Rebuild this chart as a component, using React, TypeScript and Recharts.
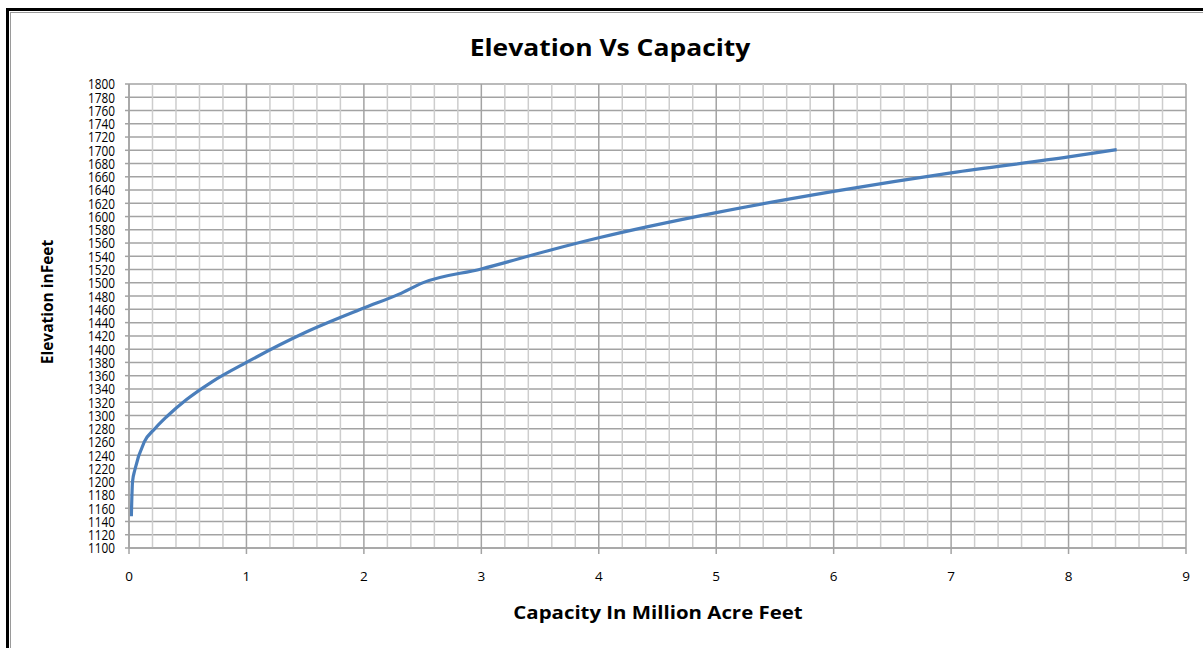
import { CartesianGrid, Line, LineChart, ReferenceLine, XAxis, YAxis } from "recharts";

// storage capacity (million acre feet) against pool elevation (feet)
const capacity = [0.02, 0.03, 0.05, 0.13, 0.22, 0.32, 0.49, 0.7, 1.0, 1.5, 2.0, 2.3, 2.5, 3.0, 3.6, 4.0, 5.0, 6.0, 7.0, 8.0, 8.41];
const elevation = [1148, 1200, 1218, 1260, 1280, 1298, 1324, 1350, 1380, 1425, 1462, 1483, 1500, 1521, 1550, 1568, 1606, 1638, 1666, 1690, 1701];

const xTicks = [0, 1, 2, 3, 4, 5, 6, 7, 8, 9];
const yTicks = [
  1100, 1120, 1140, 1160, 1180, 1200, 1220, 1240, 1260, 1280, 1300, 1320,
  1340, 1360, 1380, 1400, 1420, 1440, 1460, 1480, 1500, 1520, 1540, 1560,
  1580, 1600, 1620, 1640, 1660, 1680, 1700, 1720, 1740, 1760, 1780, 1800,
];
// minor vertical grid every 0.2 between the whole-number lines
const minorX = xTicks.slice(0, -1).flatMap((t) => [0.2, 0.4, 0.6, 0.8].map((f) => +(t + f).toFixed(1)));

const data = capacity.map((c, i) => ({ capacity: c, elevation: elevation[i] }));

const FONT = "'Open Sans', 'Liberation Sans', sans-serif";
const GRID = "#a3a3a3";

// narrow, tall labels so the 20 ft steps stay readable
function ElevationTick(props: any) {
  const { x, y, payload } = props;
  return (
    <text
      x={x}
      y={y}
      dy="0.36em"
      textAnchor="end"
      fontSize={15}
      fontFamily={FONT}
      fill="#000"
      textLength={27}
      lengthAdjust="spacingAndGlyphs"
    >
      {payload.value}
    </text>
  );
}

export default function App() {
  return (
    <div style={{ position: "relative", width: 1203, height: 648, overflow: "hidden", background: "#fff", fontFamily: FONT }}>
      <style>{"body{margin:0}"}</style>
      {/* double frame; right and bottom run off the page */}
      <div style={{ position: "absolute", left: 6, top: 8, width: 1300, height: 800, border: "3px solid #000" }} />
      <div style={{ position: "absolute", left: 10, top: 12, width: 1300, height: 800, borderLeft: "1.5px solid #9a9a9a", borderTop: "1.5px solid #9a9a9a" }} />

      <div style={{ position: "absolute", left: 0, top: 0 }}>
        <LineChart width={1203} height={648} data={data} margin={{ top: 84, right: 17, bottom: 70, left: 69 }}>
          <CartesianGrid stroke={GRID} strokeWidth={1.5} />
          {minorX.map((v) => (
            <ReferenceLine key={v} x={v} stroke="#cdcdcd" strokeWidth={1.5} ifOverflow="extendDomain" />
          ))}
          <XAxis
            dataKey="capacity"
            type="number"
            domain={[0, 9]}
            ticks={xTicks}
            interval={0}
            height={30}
            stroke={GRID}
            strokeWidth={1.5}
            tickSize={6}
            tickMargin={17}
            tick={{ fill: "#000", fontSize: 13.5, fontFamily: FONT }}
          />
          <YAxis
            dataKey="elevation"
            type="number"
            domain={[1100, 1800]}
            ticks={yTicks}
            interval={0}
            width={60}
            stroke={GRID}
            strokeWidth={1.5}
            tickSize={4}
            tickMargin={10}
            tick={<ElevationTick />}
          />
          <Line
            type="monotone"
            dataKey="elevation"
            stroke="#4a7ebb"
            strokeWidth={3.2}
            dot={false}
            isAnimationActive={false}
          />
        </LineChart>
      </div>

      <div style={{ position: "absolute", left: 610, top: 47, transform: "translate(-50%, -50%) scaleX(1.15)", fontSize: 23, fontWeight: 700, whiteSpace: "nowrap" }}>
        Elevation Vs Capacity
      </div>
      <div style={{ position: "absolute", left: 47, top: 302, transform: "translate(-50%, -50%) rotate(-90deg)", fontSize: 15.5, fontWeight: 700, whiteSpace: "nowrap" }}>
        Elevation inFeet
      </div>
      <div style={{ position: "absolute", left: 658, top: 612, transform: "translate(-50%, -50%) scaleX(1.2)", fontSize: 17, fontWeight: 700, whiteSpace: "nowrap" }}>
        Capacity In Million Acre Feet
      </div>
    </div>
  );
}
